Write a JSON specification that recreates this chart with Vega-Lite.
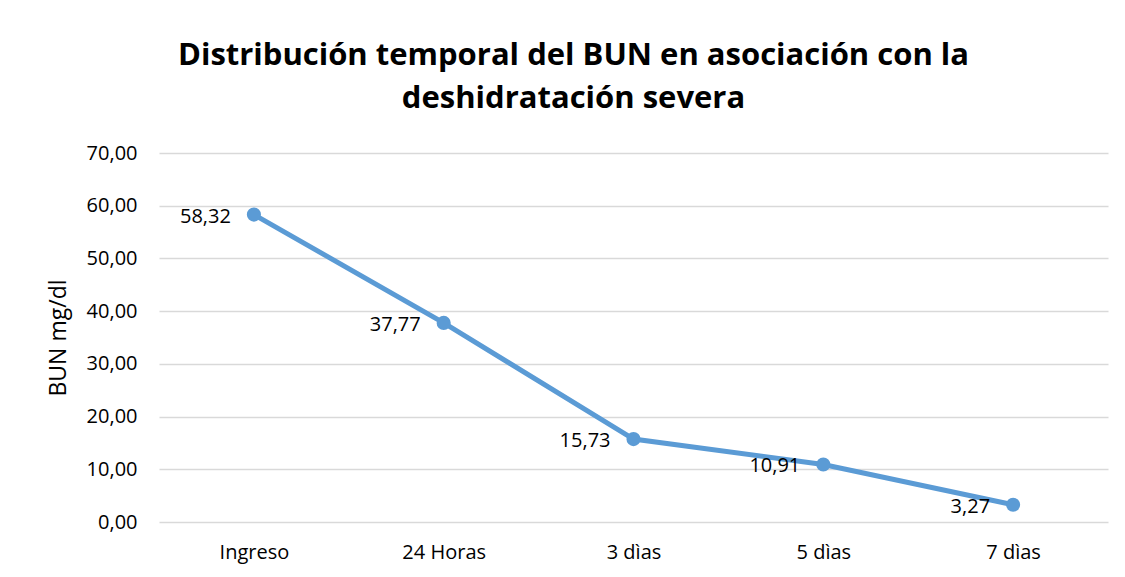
{
  "$schema": "https://vega.github.io/schema/vega-lite/v6.json",
  "autosize": "none",
  "width": 949,
  "height": 369,
  "padding": {"left": 159, "top": 153, "right": 17, "bottom": 55},
  "background": "white",
  "title": {
    "text": ["Distribución temporal del BUN en asociación con la", "deshidratación severa"],
    "font": "Open Sans",
    "fontSize": 31,
    "fontWeight": "bold",
    "color": "#000000",
    "anchor": "middle",
    "dx": -60,
    "offset": 28,
    "lineHeight": 43
  },
  "config": {
    "view": {"stroke": null},
    "font": "Open Sans",
    "locale": {
      "number": {
        "decimal": ",",
        "thousands": ".",
        "grouping": [3],
        "currency": ["", " €"]
      }
    }
  },
  "data": {
    "values": [
      {"t": "Ingreso", "bun": 58.32},
      {"t": "24 Horas", "bun": 37.77},
      {"t": "3 dìas", "bun": 15.73},
      {"t": "5 dìas", "bun": 10.91},
      {"t": "7 dìas", "bun": 3.27}
    ]
  },
  "encoding": {
    "x": {
      "field": "t",
      "type": "nominal",
      "sort": null,
      "scale": {"paddingInner": 1, "paddingOuter": 0.5, "align": 0.5},
      "axis": {
        "title": null,
        "labelAngle": 0,
        "labelFont": "Open Sans",
        "labelFontSize": 20,
        "labelColor": "#000000",
        "labelPadding": 20,
        "ticks": false,
        "domain": false,
        "grid": false
      }
    },
    "y": {
      "field": "bun",
      "type": "quantitative",
      "scale": {"domain": [0, 70], "nice": false},
      "axis": {
        "title": "BUN mg/dl",
        "titleFont": "Open Sans",
        "titleFontSize": 23,
        "titleFontWeight": "normal",
        "titleColor": "#000000",
        "titleX": -89,
        "values": [0, 10, 20, 30, 40, 50, 60, 70],
        "format": ".2f",
        "labelFont": "Open Sans",
        "labelFontSize": 20,
        "labelColor": "#000000",
        "labelPadding": 22,
        "ticks": false,
        "domain": false,
        "grid": true,
        "gridColor": "#d9d9d9",
        "gridWidth": 1.5
      }
    }
  },
  "layer": [
    {
      "mark": {"type": "line", "color": "#5b9bd5", "strokeWidth": 5}
    },
    {
      "mark": {"type": "point", "filled": true, "color": "#5b9bd5", "size": 200, "opacity": 1, "shape": "circle"}
    },
    {
      "mark": {"type": "text", "align": "right", "baseline": "middle", "dx": -23, "dy": 2, "font": "Open Sans", "fontSize": 20, "color": "#000000"},
      "encoding": {
        "text": {"field": "bun", "type": "quantitative", "format": ".2f"}
      }
    }
  ]
}
